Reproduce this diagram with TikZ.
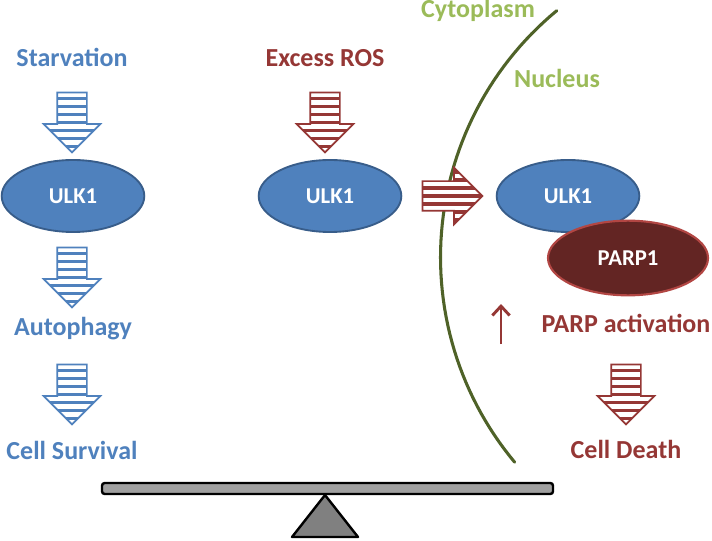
\documentclass[tikz,border=0pt]{standalone}
\usepackage{fontspec}
\setmainfont{Carlito}
\usepackage{tikz}
\usetikzlibrary{shapes,arrows.meta,calc}

\definecolor{ulkblue}{HTML}{4F81BD}
\definecolor{ulkedge}{HTML}{385D8A}
\definecolor{rosred}{HTML}{953735}
\definecolor{parpfill}{HTML}{632523}
\definecolor{parpedge}{HTML}{B24643}
\definecolor{nucgreen}{HTML}{9BBB59}
\definecolor{membrane}{HTML}{4F6228}
\definecolor{beamgray}{HTML}{A0A0A0}
\definecolor{standgray}{HTML}{808080}

\begin{document}
\begin{tikzpicture}[x=0.75pt,y=-0.75pt,
  lbl/.style={anchor=base,inner sep=0pt,font=\fontsize{19.5}{22}\selectfont\bfseries,text=#1},
  stripe/.style={single arrow,draw=#1,line width=1.3pt,fill=white,inner sep=10.5pt,
    minimum height=45pt,single arrow head extend=10.1pt,
    single arrow tip angle=90,
    path picture={\foreach \k in {-5,...,5}
      \fill[#1] ($(path picture bounding box.center)+(-30pt,\k*6pt-1.2pt)$) rectangle ++(60pt,2.4pt);}},
  ulk/.style={ellipse,draw=ulkedge,line width=1.4pt,fill=ulkblue,text=white,inner sep=0pt,
    minimum width=107pt,minimum height=54pt,font=\fontsize{17}{20}\selectfont\bfseries}
]
\useasboundingbox (0,0) rectangle (712,541);

\foreach \n/\x/\c/\l in{
	starv/{(72,67)}/ulkblue/Starvation,
	autoph/{(73,335)}/ulkblue/Autophagy,
	surv/{(72,459)}/ulkblue/Cell Survival,
	ros/{(325,67)}/rosred/Excess ROS,
	act/{(626,332)}/rosred/PARP activation,
	death/{(626,458)}/rosred/Cell Death,
	cyto/{(478,18)}/nucgreen/Cytoplasm,
	nuc/{(557,88)}/nucgreen/Nucleus
}
{
	\node[lbl=\c] (\n) at \x {\l};
}

% nuclear envelope
\draw[membrane,line width=2.3pt,line cap=round] plot[domain=230.45:140.2,samples=60] ({760.5+320*cos(\x)},{257.4+320*sin(\x)});

\foreach \n/\x/\c/\r in{
	a1/{(72,115)}/ulkblue/270,
	a2/{(72,270)}/ulkblue/270,
	a3/{(72,387)}/ulkblue/270,
	a4/{(325,115)}/rosred/270,
	a5/{(445,196)}/rosred/0,
	a6/{(626,387)}/rosred/270
}
{
	\node[stripe=\c,shape border rotate=\r] (\n) at \x {};
}

\node[ulk] (ulk1) at (73,196) {ULK1};
\node[ulk] (ulk2) at (330,196) {ULK1};
\node[ulk] (ulk3) at (568,196) {ULK1};
\node[ellipse,draw=parpedge,line width=1.6pt,fill=parpfill,text=white,inner sep=0pt,
  minimum width=120pt,minimum height=56pt,font=\fontsize{17}{20}\selectfont\bfseries] (parp) at (628,258) {PARP1};

\coordinate (up1) at (501,344);
\coordinate (up2) at (501,304);
\draw[rosred,line width=2.2pt,-{Straight Barb[length=7pt,width=13pt]}] (up1) -- (up2);

% balance
\draw[line width=1.8pt,fill=standgray,line join=round] (325,495) -- (358,537) -- (292,537) -- cycle;
\draw[line width=1.8pt,fill=beamgray,rounded corners=2pt] (102,483) rectangle (553,494);
\end{tikzpicture}
\end{document}
